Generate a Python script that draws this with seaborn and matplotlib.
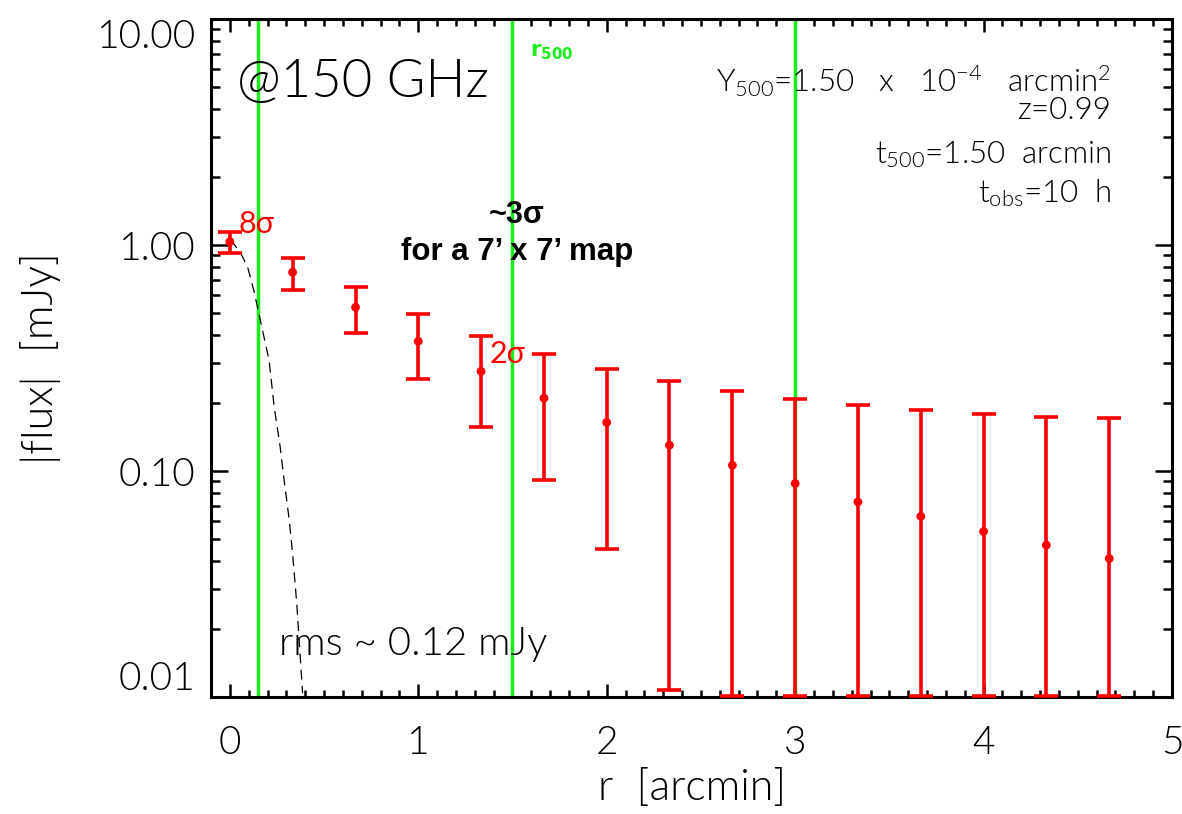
import numpy as np
import matplotlib
matplotlib.use("Agg")
import matplotlib.pyplot as plt
import matplotlib.ticker as mticker
import seaborn as sns
import pandas as pd

# ---------------- data ----------------
r_arcmin = [0.000, 0.333, 0.667, 1.000, 1.333, 1.667, 2.000, 2.333,
            2.667, 3.000, 3.333, 3.667, 4.000, 4.333, 4.667]
flux_mjy = [1.034, 0.757, 0.530, 0.375, 0.276, 0.210, 0.164, 0.130,
            0.106, 0.088, 0.073, 0.063, 0.054, 0.047, 0.041]
flux_err = [0.113, 0.122, 0.121, 0.120, 0.120, 0.119, 0.119, 0.1193,
            0.120, 0.120, 0.122, 0.123, 0.125, 0.127, 0.130]

beam_r = [0.000, 0.014, 0.058, 0.094, 0.129, 0.173, 0.208, 0.235,
          0.267, 0.288, 0.315, 0.333, 0.355, 0.386]
beam_flux = [1.034, 1.030, 0.919, 0.801, 0.621, 0.421, 0.310, 0.193,
             0.128, 0.091, 0.061, 0.043, 0.026, 0.0104]

vlines_r = [0.15, 1.5, 3.0]

ytick_vals = [0.01, 0.1, 1.0, 10.0]
ytick_labels = ["0.01", "0.10", "1.00", "10.00"]
xtick_vals = [0, 1, 2, 3, 4, 5]
xtick_labels = ["0", "1", "2", "3", "4", "5"]

info_lines = [r"Y$_{500}$=1.50   x   10$^{-4}$   arcmin$^{2}$",
              "z=0.99",
              r"t$_{500}$=1.50  arcmin",
              r"t$_{obs}$=10  h"]

# ---------------- style ----------------
sns.set_theme(style="ticks")
plt.rcParams["font.family"] = ["Lato", "DejaVu Sans"]
plt.rcParams["font.weight"] = 300
plt.rcParams["axes.labelweight"] = 300
plt.rcParams["mathtext.default"] = "regular"
plt.rcParams["axes.linewidth"] = 2.2

RED = "#ff0000"
GREEN = "#18ee18"

W, H = 1182, 814
fig = plt.figure(figsize=(W / 100, H / 100), dpi=100)
AX_L, AX_R, AX_T, AX_B = 211, 1172, 19, 697
ax = fig.add_axes([AX_L / W, 1 - AX_B / H, (AX_R - AX_L) / W, (AX_B - AX_T) / H])
ax.set_facecolor("white")

def fx(px):
    return (px - AX_L) / (AX_R - AX_L)

def fy(py):
    return (AX_B - py) / (AX_B - AX_T)

ax.set_yscale("log")
ax.set_xlim(-0.1, 5.0)
ax.set_ylim(0.01, 10)

# green reference lines
for xv in vlines_r:
    ax.axvline(xv, color=GREEN, lw=2.5, zorder=1)

# beam profile (dashed)
beam_df = pd.DataFrame({"r": beam_r, "f": beam_flux})
sns.lineplot(data=beam_df, x="r", y="f", ax=ax, color="black", lw=0.9,
             sort=False, estimator=None, zorder=2)
ax.lines[-1].set_dashes((8, 5))

# data points with error bars
df = pd.DataFrame({"r": r_arcmin, "f": flux_mjy, "e": flux_err})
lower = df["f"] - np.maximum(df["f"] - df["e"], 0.0101)
upper = df["e"]
ax.errorbar(df["r"], df["f"], yerr=[lower, upper], fmt="none",
            ecolor=RED, elinewidth=2.6, capsize=8.5, capthick=2.6, zorder=4)
sns.scatterplot(data=df, x="r", y="f", ax=ax, color=RED, s=40,
                edgecolor="none", zorder=5, legend=False)

# ticks
ax.set_xticks(xtick_vals)
ax.set_xticklabels(xtick_labels)
ax.xaxis.set_minor_locator(mticker.MultipleLocator(0.1))
ax.set_yticks(ytick_vals)
ax.set_yticklabels(ytick_labels)
ax.yaxis.set_minor_locator(mticker.LogLocator(base=10, subs=np.arange(2, 10)))
ax.yaxis.set_minor_formatter(mticker.NullFormatter())
ax.tick_params(which="both", direction="in", top=True, right=True,
               colors="black", labelcolor="black", width=1.8)
ax.tick_params(axis="x", which="major", length=9.5, pad=20, labelsize=28)
ax.tick_params(axis="x", which="minor", length=4.8)
ax.tick_params(axis="y", which="major", length=12.5, pad=11, labelsize=28)
ax.tick_params(axis="y", which="minor", length=6.5)
for lab in ax.get_yticklabels():
    if lab.get_text() == "10.00":
        lab.set_verticalalignment("top")
    elif lab.get_text() == "0.01":
        lab.set_verticalalignment("bottom")
for sp in ax.spines.values():
    sp.set_linewidth(2.2)
    sp.set_color("black")

ax.set_xlabel("r  [arcmin]", fontsize=31, color="black")
ax.set_ylabel("|flux|  [mJy]", fontsize=31, color="black")
ax.xaxis.set_label_coords(fx(692), fy(769))
ax.yaxis.set_label_coords(fx(61), 0.5)

# annotations
ax.text(fx(237), fy(97), "@150 GHz", transform=ax.transAxes, fontsize=38,
        ha="left", va="baseline", color="black")
ax.text(fx(279), fy(655), "rms ~ 0.12 mJy", transform=ax.transAxes,
        fontsize=29, ha="left", va="baseline", color="black")
ax.text(fx(517), fy(223), "~3σ", transform=ax.transAxes, fontsize=22,
        fontweight="bold", family=["Liberation Sans", "DejaVu Sans"],
        ha="center", va="baseline", color="black")
ax.text(fx(517), fy(260), "for a 7’ x 7’ map", transform=ax.transAxes,
        fontsize=22.5, fontweight="bold", family=["Liberation Sans", "DejaVu Sans"],
        ha="center", va="baseline", color="black")
ax.text(fx(239), fy(233), "8σ", transform=ax.transAxes, fontsize=22,
        ha="left", va="baseline", color=RED, fontweight="normal")
ax.text(fx(490), fy(363), "2σ", transform=ax.transAxes, fontsize=22,
        ha="left", va="baseline", color=RED, fontweight="normal")
ax.text(fx(530), fy(56), r"$\mathbf{r_{500}}$", transform=ax.transAxes,
        fontsize=15.5, ha="left", va="baseline", color=GREEN)

info_base = [92, 119, 163, 202]
for txt, by in zip(info_lines, info_base):
    ax.text(fx(1111), fy(by), txt, transform=ax.transAxes, fontsize=22.5,
            ha="right", va="baseline", color="black")

fig.savefig("out.png", dpi=100)
